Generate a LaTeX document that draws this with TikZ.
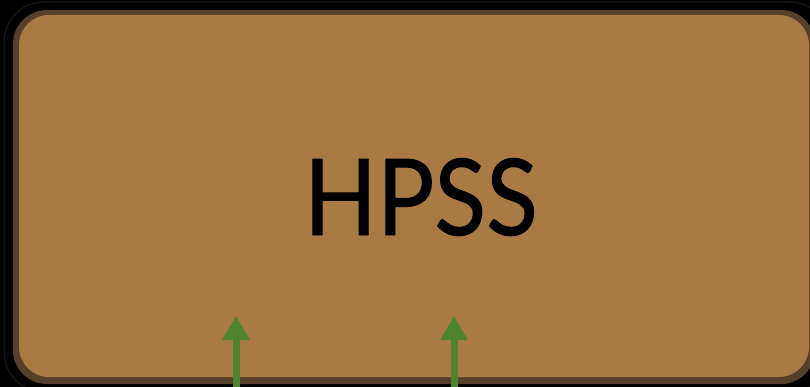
\documentclass[tikz,border=0pt]{standalone}
\usepackage{fontspec}
\newfontfamily\labelfont[FakeBold=0.9]{Lato}
\usetikzlibrary{arrows.meta}
\definecolor{boxfill}{HTML}{A97A43}
\definecolor{boxedge}{HTML}{57402A}
\definecolor{arrowgreen}{HTML}{4E8430}
\definecolor{rimgray}{HTML}{1C1C1C}
\tikzset{
  upflow/.style={draw=arrowgreen, line width=7pt, -{Triangle[width=26pt,length=24pt]}},
}
\begin{document}
\begin{tikzpicture}[x=1pt,y=-1pt]
\fill[black] (0,0) rectangle (810,387);
\useasboundingbox (0,0) rectangle (810,387);
\draw[rimgray, line width=1pt, rounded corners=40pt] (4,2) rectangle (830,392);
\fill[boxedge, rounded corners=34pt] (13,10) rectangle (815,384);
\fill[boxfill, rounded corners=30pt] (19,15) rectangle (809,377);
\node[anchor=base, inner sep=0pt, xscale=0.9, font=\labelfont\fontsize{106}{110}\selectfont] (hpss) at (421,235) {HPSS};
\coordinate (inA) at (236,392);
\coordinate (inB) at (454,392);
\coordinate (tipA) at (236,316);
\coordinate (tipB) at (454,316);
\draw[upflow] (inA) -- (tipA);
\draw[upflow] (inB) -- (tipB);
\end{tikzpicture}
\end{document}
